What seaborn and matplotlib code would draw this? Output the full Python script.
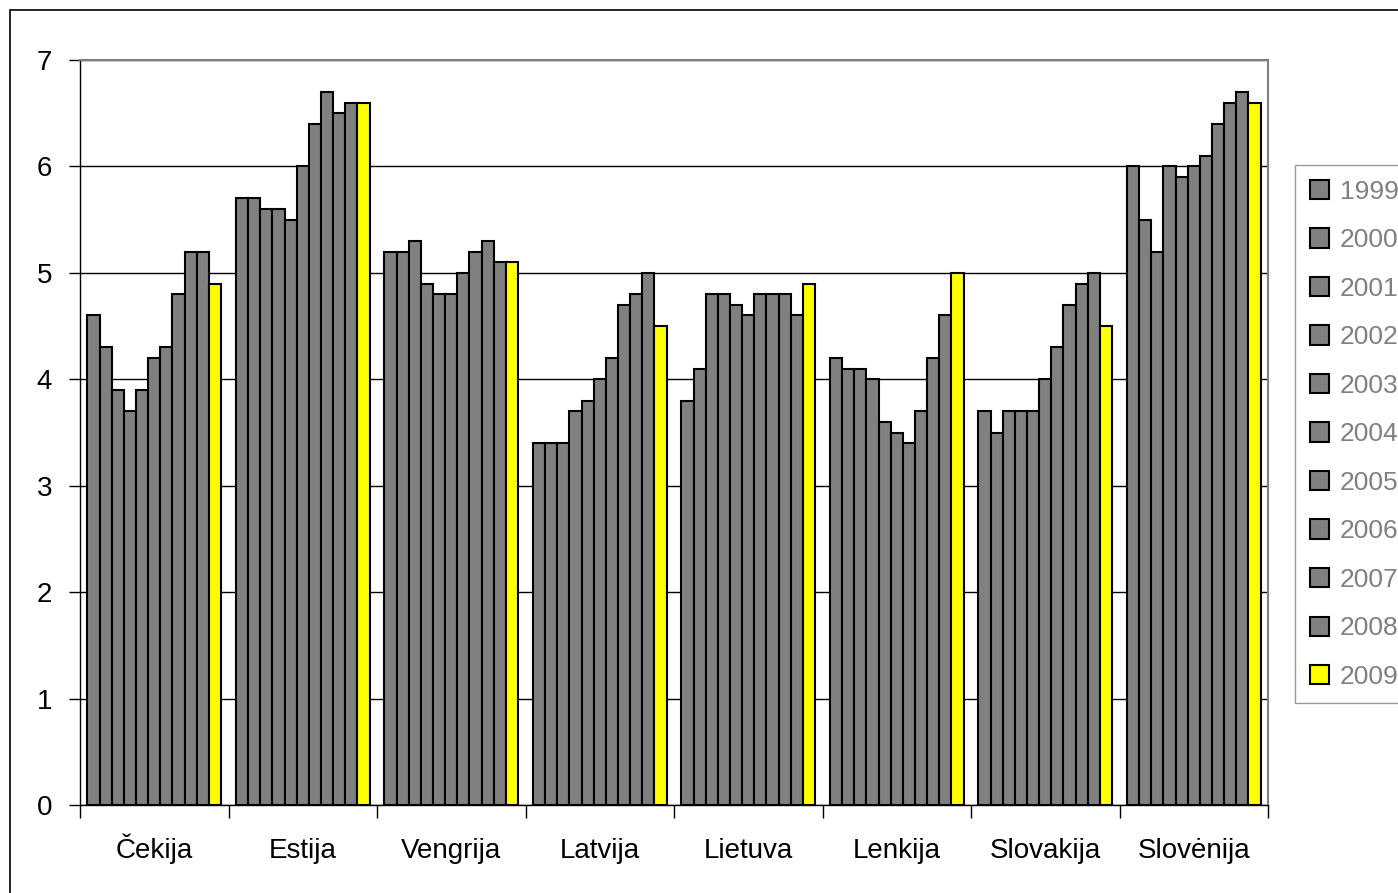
import pandas as pd
import matplotlib
matplotlib.use("Agg")
import matplotlib.pyplot as plt
import matplotlib.patches as mpatches
import seaborn as sns

# =====================================
# Data
# =====================================

countries = ["Čekija", "Estija", "Vengrija", "Latvija",
             "Lietuva", "Lenkija", "Slovakija", "Slovėnija"]
years = ["1999", "2000", "2001", "2002", "2003", "2004",
         "2005", "2006", "2007", "2008", "2009"]

cekija = [4.6, 4.3, 3.9, 3.7, 3.9, 4.2, 4.3, 4.8, 5.2, 5.2, 4.9]
estija = [5.7, 5.7, 5.6, 5.6, 5.5, 6.0, 6.4, 6.7, 6.5, 6.6, 6.6]
vengrija = [5.2, 5.2, 5.3, 4.9, 4.8, 4.8, 5.0, 5.2, 5.3, 5.1, 5.1]
latvija = [3.4, 3.4, 3.4, 3.7, 3.8, 4.0, 4.2, 4.7, 4.8, 5.0, 4.5]
lietuva = [3.8, 4.1, 4.8, 4.8, 4.7, 4.6, 4.8, 4.8, 4.8, 4.6, 4.9]
lenkija = [4.2, 4.1, 4.1, 4.0, 3.6, 3.5, 3.4, 3.7, 4.2, 4.6, 5.0]
slovakija = [3.7, 3.5, 3.7, 3.7, 3.7, 4.0, 4.3, 4.7, 4.9, 5.0, 4.5]
slovenija = [6.0, 5.5, 5.2, 6.0, 5.9, 6.0, 6.1, 6.4, 6.6, 6.7, 6.6]

series = [cekija, estija, vengrija, latvija, lietuva, lenkija, slovakija, slovenija]

rows = []
for country, vals in zip(countries, series):
    for year, v in zip(years, vals):
        rows.append({"country": country, "year": year, "value": v})
df = pd.DataFrame(rows)

palette = {y: "#808080" for y in years}
palette["2009"] = "#FFFF00"

# =====================================
# Plot
# =====================================

sns.set_style("white")
plt.rcParams["font.family"] = ["Liberation Sans", "DejaVu Sans"]

fig = plt.figure(figsize=(13.98, 8.93), dpi=100)
ax = fig.add_axes([80 / 1398, 1 - 805 / 893, 1188 / 1398, 745 / 893])

sns.barplot(data=df, x="country", y="value", hue="year", palette=palette,
            order=countries, hue_order=years, width=0.9,
            edgecolor="black", linewidth=1.5, saturation=1, ax=ax)

ax.set_ylim(0, 7)
ax.set_xlim(-0.5, len(countries) - 0.5)
ax.set_yticks(range(0, 8))
ax.yaxis.grid(True, color="black", linewidth=1)
ax.set_axisbelow(True)
ax.set_xlabel("")
ax.set_ylabel("")

# labels at group centres, tick marks at group boundaries
ax.set_xticks(range(len(countries)))
ax.set_xticklabels(countries, fontsize=20, color="black")
for lbl in ax.get_xticklabels():
    lbl.set_verticalalignment("baseline")
ax.tick_params(axis="x", length=0, pad=38)
ax.set_xticks([i - 0.5 for i in range(len(countries) + 1)], minor=True)
ax.tick_params(axis="x", which="minor", length=9, width=1, color="black",
               direction="out", bottom=True)
ax.tick_params(axis="y", labelsize=20, labelcolor="black", length=8, width=1,
               color="black", direction="out", left=True, pad=12)

for side in ["left", "bottom"]:
    ax.spines[side].set_color("black")
    ax.spines[side].set_linewidth(1)
for side in ["top", "right"]:
    ax.spines[side].set_color("#808080")
    ax.spines[side].set_linewidth(1.5)

# legend
handles = [mpatches.Patch(facecolor=palette[y], edgecolor="black",
                          linewidth=1.5, label=y) for y in years]
ax.legend_.remove()
leg = fig.legend(handles=handles, loc="upper left",
                 bbox_to_anchor=(1295 / 1398, 1 - 165 / 893),
                 borderaxespad=0, frameon=True, fontsize=19,
                 handlelength=0.75, handleheight=0.75,
                 handletextpad=0.4, labelspacing=0.93, borderpad=0.55,
                 fancybox=False, edgecolor="#808080")
leg.get_frame().set_linewidth(1)
for t in leg.get_texts():
    t.set_color("#808080")

# outer chart border
fig.patches.append(mpatches.Rectangle((10 / 1398, -0.1), 1.2, 1 - 10 / 893 + 0.1,
                                      transform=fig.transFigure, fill=False,
                                      edgecolor="black", linewidth=1.2))

fig.savefig("out.png", dpi=100)
